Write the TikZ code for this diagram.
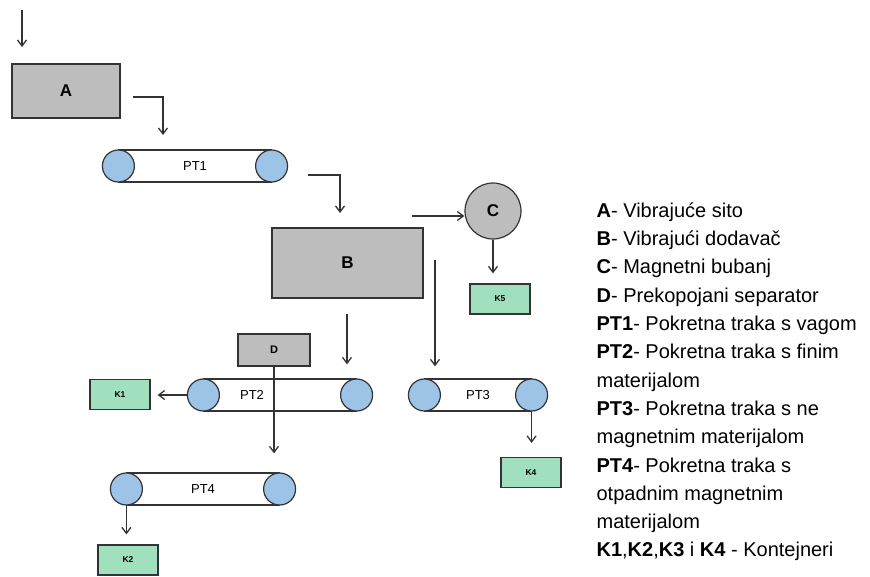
\documentclass[tikz,border=0pt]{standalone}
\usepackage{fontspec}
\setmainfont{Liberation Sans}
\usetikzlibrary{arrows.meta}
\definecolor{unitgray}{HTML}{BDBDBD}
\definecolor{rollerblue}{HTML}{9DC3E6}
\definecolor{boxgreen}{HTML}{A0E0BE}
\definecolor{edgegray}{HTML}{333333}
\begin{document}
\begin{tikzpicture}[x=1pt,y=-1pt,
  every node/.style={draw=edgegray,line width=1.2pt,inner sep=0pt},
  unit/.style={fill=unitgray,font=\bfseries\fontsize{17}{17}\selectfont},
  kbox/.style={fill=boxgreen,minimum width=60pt,minimum height=30pt,font=\bfseries\fontsize{8.5}{8.5}\selectfont},
  belt/.style={fill=white,minimum height=32pt,font=\fontsize{13}{13}\selectfont},
  roller/.style={circle,fill=rollerblue,minimum size=32pt},
  flow/.style={draw=edgegray,line width=1.3pt,-{Straight Barb[length=6pt,width=9pt]}}]
\useasboundingbox (0,0) rectangle (870,576);

% machines
\node[unit,minimum width=108pt,minimum height=54pt] (a) at (66,91) {A};
\node[unit,minimum width=151pt,minimum height=70pt] (b) at (347.5,263) {B};
\node[unit,circle,minimum size=56pt] (c) at (493,211) {C};
\node[unit,minimum width=72pt,minimum height=32pt,font=\bfseries\fontsize{11}{11}\selectfont] (d) at (274,350) {D};

% belts with rollers
\node[belt,minimum width=152pt] (pt1) at (195,166) {PT1};
\node[belt,minimum width=152pt] (pt2) at (280,395) {};
\node[belt,minimum width=106pt] (pt3) at (478,395) {PT3};
\node[belt,minimum width=152pt] (pt4) at (203,489) {PT4};
\foreach \t in {pt1,pt2,pt3,pt4}{
  \node[roller] (\t l) at (\t.west) {};
  \node[roller] (\t r) at (\t.east) {};
}
\node[draw=none,font=\fontsize{13}{13}\selectfont] (pt2txt) at (252,395) {PT2};

% containers
\node[kbox] (k5) at (500,299) {K5};
\node[kbox] (k1) at (120,394.5) {K1};
\node[kbox] (k4) at (531,472.5) {K4};
\node[kbox] (k2) at (128,560) {K2};

% flow
\coordinate (intop) at (22,10);
\coordinate (inend) at (22,47);
\coordinate (aout) at (133,97);
\coordinate (pt1in) at (163,135);
\coordinate (pt1out) at (308,175);
\coordinate (bin) at (340,213);
\coordinate (cin) at (412,216);
\coordinate (bout1) at (347,314);
\coordinate (bout2) at (435,260);
\draw[flow] (intop) -- (inend);
\draw[flow] (aout) -| (pt1in);
\draw[flow] (pt1out) -| (bin);
\draw[flow] (cin) -- (cin -| c.west);
\draw[flow,shorten >=10pt] (c.south) -- (c.south |- k5.north);
\draw[flow,shorten >=14pt] (bout1) -- (bout1 |- pt2.north);
\draw[flow,shorten >=12pt] (bout2) -- (bout2 |- pt3.north);
\draw[flow,shorten >=19pt] (d.south) -- (d.south |- pt4.north);
\draw[flow,shorten >=7pt] (pt2l.west) -- (pt2l.west -| k1.east);
\draw[flow,shorten >=10pt] (pt4l.south) -- (pt4l.south |- k2.north);
\draw[flow,shorten >=14pt] (pt3r.south) -- (pt3r.south |- k4.north);

% legend
\node[draw=none,anchor=north west,align=left,font=\fontsize{20}{28.3}\selectfont] (legend) at (596,202) {%
\textbf{A}- Vibrajuće sito\\
\textbf{B}- Vibrajući dodavač\\
\textbf{C}- Magnetni bubanj\\
\textbf{D}- Prekopojani separator\\
\textbf{PT1}- Pokretna traka s vagom\\
\textbf{PT2}- Pokretna traka s finim\\
materijalom\\
\textbf{PT3}- Pokretna traka s ne\\
magnetnim materijalom\\
\textbf{PT4}- Pokretna traka s\\
otpadnim magnetnim\\
materijalom\\
\textbf{K1},\textbf{K2},\textbf{K3} i \textbf{K4} - Kontejneri};
\end{tikzpicture}
\end{document}
